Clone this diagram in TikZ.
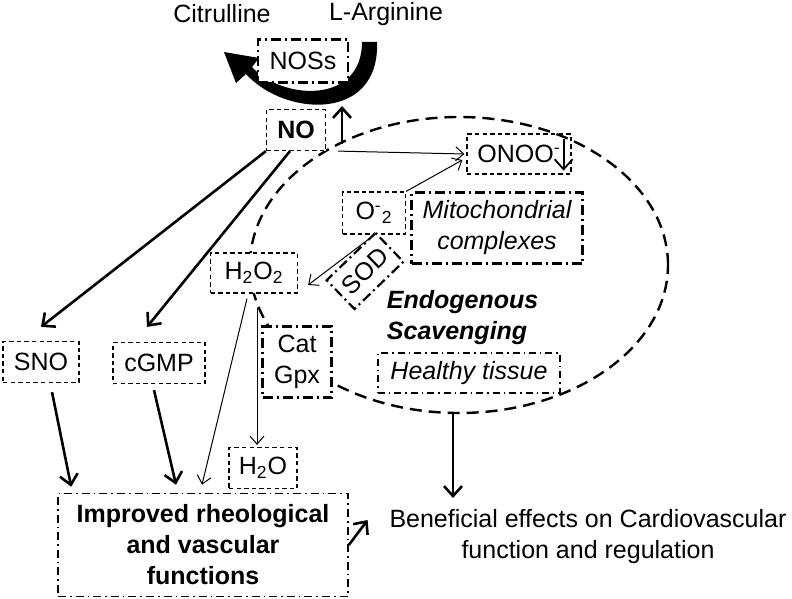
\documentclass[tikz,border=0pt]{standalone}
\usepackage{fontspec}
\setmainfont{Liberation Sans}
\usepackage{tikz}
\usetikzlibrary{arrows.meta,shapes.geometric}

\begin{document}
\fontsize{12.5}{15.5}\selectfont
\begin{tikzpicture}[->,>={Straight Barb[length=5pt,width=9pt]},x=0.5pt,y=-0.5pt,semithick]
                  \tikzstyle{chem}=[draw,-,line width=0.6pt,dash pattern=on 2.2pt off 1.6pt,fill=white,minimum height=20.5pt,inner sep=2pt,align=center]
                  \tikzstyle{enzyme}=[draw,-,line width=1.1pt,dash pattern=on 5pt off 2pt on 1pt off 2pt,fill=white,inner sep=2pt,align=center]
                  \tikzstyle{fine}=[line width=0.5pt,>={Straight Barb[length=4pt,width=7pt]}]
                  \tikzstyle{heavy}=[line width=1.3pt]

                  \useasboundingbox (0,0) rectangle (792,599);

                  % scavenging region
                  \node[draw,ellipse,-,line width=1.2pt,dash pattern=on 6pt off 3.5pt,minimum width=209pt,minimum height=148pt,inner sep=0pt] (scav) at (459,265) {};

                  % NOS turnover arrow
                  \fill[-] (377,42) .. controls (380,122) and (285,117) .. (246,74) -- (236,83) -- (224,52) -- (259,58) -- (252,67) .. controls (282,100) and (362,105) .. (362,42) -- cycle;

                  \node         (citrulline) at (222,14)  {Citrulline};
                  \node         (arginine)   at (386,14)  {L-Arginine};
                  \node[enzyme,minimum width=45pt,minimum height=21.5pt] (nos) at (303,61) {NOSs};
                  \node[chem,minimum width=29.5pt,font=\bfseries] (no) at (296,130) {NO};
                  \node[chem,fill=none,minimum width=52pt,minimum height=20pt] (onoo) at (519,154) {ONOO\textsuperscript{-}};
                  \node[chem,minimum width=31.5pt,minimum height=21pt] (o2) at (374,213) {O\textsuperscript{-}\textsubscript{2}};
                  \node[enzyme,minimum width=85.5pt,minimum height=35.5pt,font=\itshape] (mito) at (497,228) {Mitochondrial\\complexes};
                  \node[enzyme,rotate=44,minimum width=34pt,minimum height=20pt] (sod) at (365,271) {SOD};
                  \node[chem,minimum width=43.5pt,minimum height=20pt] (h2o2) at (254,273) {H\textsubscript{2}O\textsubscript{2}};
                  \node[enzyme,minimum width=34.5pt,minimum height=35.5pt] (catgpx) at (297,362) {Cat\\Gpx};
                  \node[chem,minimum width=34pt] (h2o) at (263,468) {H\textsubscript{2}O};
                  \node[chem,minimum width=38pt] (sno) at (41,362) {SNO};
                  \node[chem,minimum width=46pt] (cgmp) at (159,363) {cGMP};
                  \node[anchor=west,align=left,font=\bfseries\itshape] (endo) at (378,318) {Endogenous\\Scavenging};
                  \node[draw,-,line width=0.6pt,dash pattern=on 3.5pt off 2pt on 0.7pt off 2pt,fill=white,minimum width=91pt,minimum height=20pt,font=\itshape] (healthy) at (469,373) {Healthy tissue};
                  \node[draw,-,line width=0.8pt,dash pattern=on 4pt off 2pt on 0.8pt off 2pt,minimum width=145pt,minimum height=51.5pt,align=center,font=\bfseries] (improved) at (203,545) {Improved rheological\\and vascular\\functions};
                  \node[align=center] (benefit) at (588,537) {Beneficial effects on Cardiovascular\\function and regulation};

                  \coordinate (nofoot)     at (342,144);
                  \coordinate (nostop)     at (342,106);
                  \coordinate (benefittop) at (453,498);

                  \path (nofoot) edge[heavy] (nostop)
                        ([xshift=-4pt,yshift=-3pt]onoo.north east) edge[line width=0.9pt] ([xshift=-4pt,yshift=2pt]onoo.south east)
                        ([xshift=6pt]no.south east) edge[fine] ([xshift=-1pt]onoo.west)
                        (o2.north east) edge[fine] ([xshift=-2pt,yshift=-3pt]onoo.west)
                        ([xshift=-1pt,yshift=-1pt]o2.south) edge[fine] ([xshift=5pt,yshift=-6pt]h2o2.east)
                        ([xshift=-3.5pt,yshift=-2.5pt]h2o2.south) edge[fine] ([xshift=-0.5pt,yshift=4pt]improved.north)
                        ([xshift=1.5pt,yshift=-7pt]h2o2.south) edge[fine] ([xshift=-3pt,yshift=1pt]h2o.north);

                  \path (no.south west) edge[heavy] ([yshift=7pt]sno.north)
                        ([xshift=-3pt]no.south) edge[heavy] ([xshift=-6pt,yshift=7.5pt]cgmp.north)
                        ([xshift=5.5pt,yshift=-4.5pt]sno.south) edge[heavy] ([xshift=7pt,yshift=3pt]improved.north west)
                        ([xshift=-2.5pt,yshift=-3pt]cgmp.south) edge[heavy] ([xshift=-13.5pt,yshift=4pt]improved.north)
                        (improved.east) edge[heavy] ([xshift=-6.5pt,yshift=8.5pt]benefit.west)
                        ([xshift=-3pt]scav.south) edge[heavy] (benefittop);
                \end{tikzpicture}
\end{document}
